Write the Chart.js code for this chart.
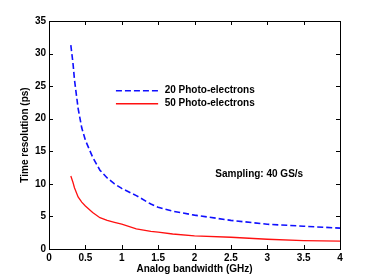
<!DOCTYPE html>
<html>
<head>
<meta charset="utf-8">
<script src="https://cdn.jsdelivr.net/npm/chart.js@4/dist/chart.umd.min.js"></script>
<style>
  html, body { margin: 0; padding: 0; background: #fff; }
  #wrap { width: 374px; height: 280px; }
</style>
</head>
<body>
<div id="wrap"><canvas id="myChart" width="374" height="280"></canvas></div>
<script>
// Analog bandwidth (GHz) sample points
const bandwidth = [0.3, 0.33, 0.35, 0.4, 0.45, 0.5, 0.6, 0.7, 0.8, 0.9, 1.0, 1.2, 1.4, 1.5, 1.7, 2.0, 2.5, 3.0, 3.5, 4.0];
// Time resolution (ps) for each curve
const res20 = [31.3, 28.5, 26.0, 21.6, 18.6, 16.7, 14.1, 12.1, 10.9, 10.0, 9.3, 8.2, 6.9, 6.4, 5.8, 5.2, 4.4, 3.8, 3.5, 3.2];
const res50 = [11.2, 10.2, 9.4, 8.0, 7.2, 6.6, 5.6, 4.8, 4.4, 4.1, 3.8, 3.1, 2.7, 2.6, 2.3, 2.0, 1.8, 1.5, 1.3, 1.2];
const seriesLabels = ['20 Photo-electrons', '50 Photo-electrons'];
const annotationText = 'Sampling: 40 GS/s';
const xTicks = [0, 0.5, 1, 1.5, 2, 2.5, 3, 3.5, 4];
const yTicks = [0, 5, 10, 15, 20, 25, 30, 35];

const FONT = '"Liberation Sans", Arial, sans-serif';

function toPoints(xs, ys) {
    return xs.map((x, i) => ({ x: x, y: ys[i] }));
}

// Draws the box, inward ticks, legend and annotation
const framePlugin = {
    id: 'frame',
    afterDraw(chart) {
        const ctx = chart.ctx;
        const a = chart.chartArea;
        const xs = chart.scales.x, ys = chart.scales.y;
        ctx.save();
        ctx.strokeStyle = '#000';
        ctx.lineWidth = 1;
        ctx.strokeRect(a.left + 0.5, a.top + 0.5, a.right - a.left, a.bottom - a.top);
        ctx.beginPath();
        xTicks.forEach(v => {
            const px = Math.round(xs.getPixelForValue(v)) + 0.5;
            ctx.moveTo(px, a.bottom); ctx.lineTo(px, a.bottom - 4);
            ctx.moveTo(px, a.top); ctx.lineTo(px, a.top + 4);
        });
        yTicks.forEach(v => {
            const py = Math.round(ys.getPixelForValue(v)) + 0.5;
            ctx.moveTo(a.left, py); ctx.lineTo(a.left + 4, py);
            ctx.moveTo(a.right, py); ctx.lineTo(a.right - 4, py);
        });
        ctx.stroke();

        // legend
        const lx0 = xs.getPixelForValue(0.92), lx1 = xs.getPixelForValue(1.5);
        const ly = [ys.getPixelForValue(24.3), ys.getPixelForValue(22.3)];
        chart.data.datasets.forEach((ds, i) => {
            ctx.beginPath();
            ctx.strokeStyle = ds.borderColor;
            ctx.lineWidth = ds.borderWidth;
            ctx.setLineDash(ds.borderDash || []);
            ctx.moveTo(lx0, ly[i]); ctx.lineTo(lx1, ly[i]);
            ctx.stroke();
            ctx.setLineDash([]);
            ctx.fillStyle = '#000';
            ctx.font = 'bold 10px ' + FONT;
            ctx.textAlign = 'left';
            ctx.textBaseline = 'middle';
            ctx.fillText(ds.label, xs.getPixelForValue(1.59), ly[i]);
        });

        // annotation
        ctx.font = 'bold 10px ' + FONT;
        ctx.textAlign = 'center';
        ctx.fillText(annotationText, xs.getPixelForValue(2.89), ys.getPixelForValue(11.5));
        ctx.restore();
    }
};

const chartConfig = {
    type: 'line',
    data: {
        datasets: [
            {
                label: seriesLabels[0],
                data: toPoints(bandwidth, res20),
                borderColor: '#1010ff',
                borderWidth: 1.6,
                borderDash: [6, 3],
                pointRadius: 0,
                fill: false,
                tension: 0
            },
            {
                label: seriesLabels[1],
                data: toPoints(bandwidth, res50),
                borderColor: '#ff1010',
                borderWidth: 1.3,
                pointRadius: 0,
                fill: false,
                tension: 0
            }
        ]
    },
    options: {
        responsive: false,
        animation: false,
        layout: { padding: { top: 21, right: 34, left: 19, bottom: 5 } },
        plugins: { legend: { display: false }, tooltip: { enabled: false } },
        scales: {
            x: {
                type: 'linear',
                min: 0, max: 4,
                afterBuildTicks: s => { s.ticks = xTicks.map(v => ({ value: v })); },
                afterFit: s => { s.height = 26; },
                grid: { display: false, drawTicks: false },
                border: { display: false },
                ticks: {
                    color: '#000', padding: 3,
                    font: { family: FONT, size: 10, weight: 'bold' },
                    maxRotation: 0,
                    callback: v => String(v)
                },
                title: {
                    display: true, text: 'Analog bandwidth (GHz)', color: '#000',
                    font: { family: FONT, size: 10, weight: 'bold' },
                    padding: { top: 1, bottom: 0 }
                }
            },
            y: {
                min: 0, max: 35,
                afterBuildTicks: s => { s.ticks = yTicks.map(v => ({ value: v })); },
                afterFit: s => { s.width = 30; },
                grid: { display: false, drawTicks: false },
                border: { display: false },
                ticks: {
                    color: '#000', padding: 3,
                    font: { family: FONT, size: 10, weight: 'bold' }
                },
                title: {
                    display: true, text: 'Time resolution (ps)', color: '#000',
                    font: { family: FONT, size: 10, weight: 'bold' },
                    padding: { top: 0, bottom: 0 }
                }
            }
        }
    },
    plugins: [framePlugin]
};

const ctx = document.getElementById('myChart').getContext('2d');
new Chart(ctx, chartConfig);
</script>
</body>
</html>
